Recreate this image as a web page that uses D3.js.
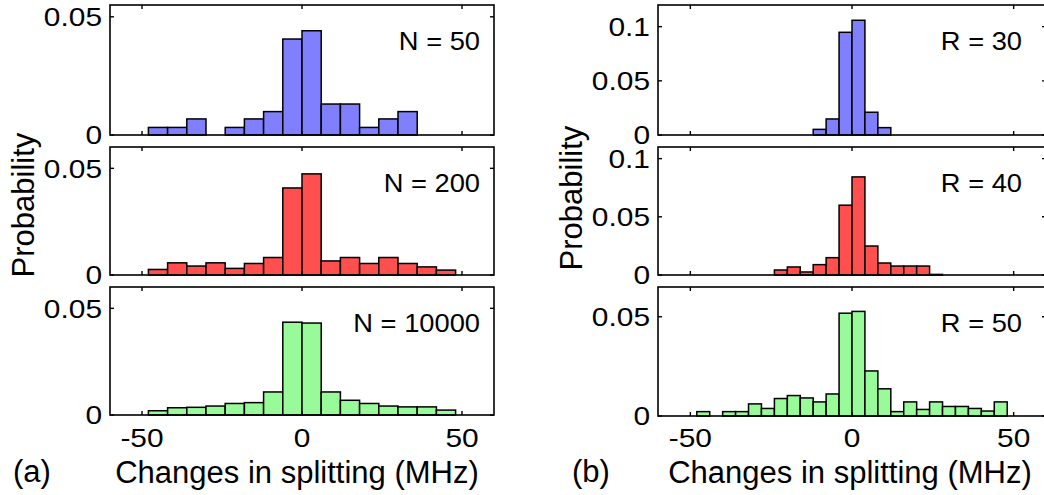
<!DOCTYPE html>
<html>
<head>
<meta charset="utf-8">
<script src="https://cdn.jsdelivr.net/npm/d3@7"></script>
<style>
  html, body { margin: 0; padding: 0; background: #fff; }
  svg { display: block; }
  text { font-family: "Liberation Sans", Arial, Helvetica, sans-serif; fill: #000; }
</style>
</head>
<body>
<svg id="chart" width="1044" height="495"></svg>
<script>
// ---------- DATA ----------
const leftBinStarts = [-48, -42, -36, -30, -24, -18, -12, -6, 0, 6, 12, 18, 24, 30, 36, 42];
const leftBinWidth = 6;
const probN50    = [0.0032, 0.0032, 0.0068, 0, 0.0032, 0.0068, 0.0099, 0.0406, 0.0441, 0.0131, 0.0131, 0.0032, 0.0068, 0.0099, 0, 0];
const probN200   = [0.0026, 0.0057, 0.0042, 0.0057, 0.0031, 0.0054, 0.0082, 0.0408, 0.0474, 0.0066, 0.0082, 0.0054, 0.0082, 0.0054, 0.0038, 0.0023];
const probN10000 = [0.0020, 0.0034, 0.0036, 0.0042, 0.0054, 0.0058, 0.0108, 0.0435, 0.0431, 0.0108, 0.0069, 0.0054, 0.0042, 0.0038, 0.0038, 0.0023];

const rightBinStarts = [-48, -44, -40, -36, -32, -28, -24, -20, -16, -12, -8, -4, 0, 4, 8, 12, 16, 20, 24, 28, 32, 36, 40, 44];
const rightBinWidth = 4;
const probR30 = [0, 0, 0, 0, 0, 0, 0, 0, 0, 0.0052, 0.0148, 0.0948, 0.1059, 0.0210, 0.0068, 0, 0, 0, 0, 0, 0, 0, 0, 0];
const probR40 = [0, 0, 0, 0, 0, 0, 0.0043, 0.0069, 0.0026, 0.0089, 0.0149, 0.0600, 0.0843, 0.0249, 0.0103, 0.0077, 0.0077, 0.0077, 0.0005, 0, 0, 0, 0, 0];
const probR50 = [0.0022, 0, 0.0022, 0.0022, 0.0061, 0.0038, 0.0088, 0.0103, 0.0091, 0.0071, 0.0111, 0.0518, 0.0527, 0.0227, 0.0137, 0.0022, 0.0071, 0.0033, 0.0071, 0.0048, 0.0048, 0.0038, 0.0025, 0.0071];

const xTicks = [-50, 0, 50];
const xDomain = [-60, 60];
const leftLabels = ["N = 50", "N = 200", "N = 10000"];
const rightLabels = ["R = 30", "R = 40", "R = 50"];
const leftYMax = [0.055, 0.06, 0.06];
const rightYMax = [0.12, 0.11, 0.065];
const leftYTicks = [[0, 0.05], [0, 0.05], [0, 0.05]];
const rightYTicks = [[0, 0.05, 0.1], [0, 0.05, 0.1], [0, 0.05]];
const colors = ["#8080ff", "#ff4f4f", "#99fa99"];
const xLabel = "Changes in splitting (MHz)";
const yLabel = "Probability";

// ---------- LAYOUT ----------
const svg = d3.select("#chart");
const rowsY = [[5, 135], [147, 275], [287, 415]];
const rowsYRight = [[5, 135], [147, 275], [287, 416]];
const tickFont = 26, annFont = 26, labelFont = 31;
const tickSX = 1.15, annSX = 1.05;

function fmt(v) { return v === 0 ? "0" : String(+v.toFixed(3)); }

function stext(parent, x, y, sx, size, anchor, str, dy) {
  return parent.append("text")
    .attr("transform", `translate(${x},${y}) scale(${sx},1)`)
    .attr("dy", dy || 0)
    .attr("text-anchor", anchor).attr("font-size", size)
    .text(str);
}

function panel(x0, x1, yr, ymax, yticks, starts, width, values, color, label, labelRight, showX) {
  const x = d3.scaleLinear().domain(xDomain).range([x0, x1]);
  const y = d3.scaleLinear().domain([0, ymax]).range([yr[1], yr[0]]);
  const g = svg.append("g");

  const data = starts.map((s, i) => ({ s, v: values[i] })).filter(d => d.v > 0);
  g.selectAll("rect.bar").data(data).enter().append("rect")
    .attr("class", "bar")
    .attr("x", d => x(d.s))
    .attr("width", d => x(d.s + width) - x(d.s))
    .attr("y", d => y(d.v))
    .attr("height", d => y(0) - y(d.v))
    .attr("fill", color)
    .attr("stroke", "#000")
    .attr("stroke-width", 1.5);

  // frame
  g.append("rect")
    .attr("x", x0).attr("y", yr[0])
    .attr("width", x1 - x0).attr("height", yr[1] - yr[0])
    .attr("fill", "none").attr("stroke", "#000").attr("stroke-width", 1.6);

  const tl = 4;
  xTicks.forEach(t => {
    g.append("line").attr("x1", x(t)).attr("x2", x(t)).attr("y1", yr[1]).attr("y2", yr[1] - tl)
      .attr("stroke", "#000").attr("stroke-width", 1.4);
    g.append("line").attr("x1", x(t)).attr("x2", x(t)).attr("y1", yr[0]).attr("y2", yr[0] + tl)
      .attr("stroke", "#000").attr("stroke-width", 1.4);
  });
  yticks.forEach(t => {
    g.append("line").attr("x1", x0).attr("x2", x0 + tl).attr("y1", y(t)).attr("y2", y(t))
      .attr("stroke", "#000").attr("stroke-width", 1.4);
    g.append("line").attr("x1", x1).attr("x2", x1 - tl).attr("y1", y(t)).attr("y2", y(t))
      .attr("stroke", "#000").attr("stroke-width", 1.4);
    stext(g, x0 - 8, y(t), tickSX, tickFont, "end", fmt(t), "0.36em");
  });
  if (showX) {
    xTicks.forEach(t => {
      stext(g, x(t), 447, tickSX, tickFont, "middle", fmt(t));
    });
  }
  stext(g, labelRight, yr[0] + 45, annSX, annFont, "end", label);
}

const leftVals = [probN50, probN200, probN10000];
const rightVals = [probR30, probR40, probR50];
for (let i = 0; i < 3; i++) {
  panel(110, 494, rowsY[i], leftYMax[i], leftYTicks[i], leftBinStarts, leftBinWidth, leftVals[i], colors[i], leftLabels[i], 480, i === 2);
  panel(658, 1046, rowsYRight[i], rightYMax[i], rightYTicks[i], rightBinStarts, rightBinWidth, rightVals[i], colors[i], rightLabels[i], 1022, i === 2);
}

// axis labels
svg.append("text").attr("x", 297).attr("y", 483).attr("text-anchor", "middle")
  .attr("font-size", labelFont).text(xLabel);
svg.append("text").attr("x", 850).attr("y", 483).attr("text-anchor", "middle")
  .attr("font-size", labelFont).text(xLabel);

svg.append("text").attr("transform", "translate(34,205) rotate(-90)")
  .attr("text-anchor", "middle").attr("font-size", labelFont).text(yLabel);
svg.append("text").attr("transform", "translate(582,198) rotate(-90)")
  .attr("text-anchor", "middle").attr("font-size", labelFont).text(yLabel);

svg.append("text").attr("x", 32).attr("y", 482).attr("text-anchor", "middle")
  .attr("font-size", labelFont).text("(a)");
svg.append("text").attr("x", 591).attr("y", 482).attr("text-anchor", "middle")
  .attr("font-size", labelFont).text("(b)");
</script>
</body>
</html>
